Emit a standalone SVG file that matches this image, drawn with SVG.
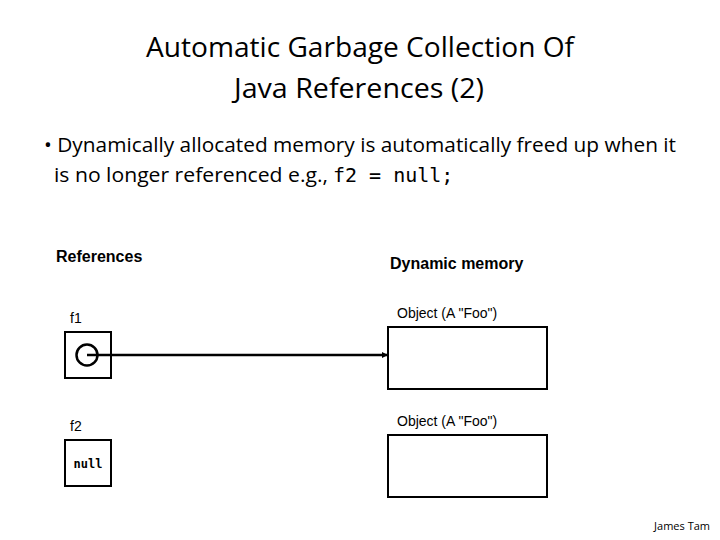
<svg xmlns="http://www.w3.org/2000/svg" width="720" height="540" viewBox="0 0 720 540">
<style>
.t{font-family:"Open Sans","Noto Sans",sans-serif;fill:#000}
.a{font-family:"Liberation Sans",Arial,sans-serif;fill:#000}
.m{font-family:"DejaVu Sans Mono","Liberation Mono",monospace;fill:#000}
.box{fill:#fff;stroke:#000;stroke-width:2}
</style>
<defs><marker id="ah" markerWidth="6" markerHeight="6" refX="6" refY="3" orient="auto" markerUnits="userSpaceOnUse"><path d="M0,0 L6,3 L0,6 z" fill="#000"/></marker></defs>
<rect width="720" height="540" fill="#fff"/>
<text class="t" x="146" y="57" font-size="27" textLength="428" lengthAdjust="spacingAndGlyphs">Automatic Garbage Collection Of</text>
<text class="t" x="234" y="98" font-size="27" textLength="250" lengthAdjust="spacingAndGlyphs">Java References (2)</text>
<text class="t" x="44" y="152" font-size="20" textLength="632" lengthAdjust="spacingAndGlyphs">• Dynamically allocated memory is automatically freed up when it</text>
<text class="t" x="54" y="182" font-size="20"><tspan textLength="274" lengthAdjust="spacingAndGlyphs">is no longer referenced e.g.,</tspan><tspan class="m" font-size="20" x="333">f2 = null;</tspan></text>
<text class="a" x="56" y="262" font-size="16" font-weight="bold">References</text>
<text class="a" x="390" y="269" font-size="16" font-weight="bold">Dynamic memory</text>
<g id="f1"><text class="a" x="70" y="323" font-size="14">f1</text><rect class="box" x="65" y="332" width="46" height="46"/><circle cx="87" cy="355" r="10.5" fill="none" stroke="#000" stroke-width="2.5"/></g>
<g id="f2"><text class="a" x="70" y="431" font-size="14">f2</text><rect class="box" x="65" y="440" width="46" height="46"/><text class="m" x="88" y="468" font-size="12" font-weight="bold" text-anchor="middle">null</text></g>
<g id="obj1"><text class="a" x="397" y="318" font-size="14">Object (A "Foo")</text><rect class="box" x="388" y="327" width="159" height="62"/></g>
<g id="obj2"><text class="a" x="397" y="426" font-size="14">Object (A "Foo")</text><rect class="box" x="388" y="435" width="159" height="62"/></g>
<g id="connectors"><line x1="87" y1="355" x2="388" y2="355" stroke="#000" stroke-width="2.5" marker-end="url(#ah)"/></g>
<text class="t" x="710" y="530" font-size="11" text-anchor="end">James Tam</text>
</svg>
